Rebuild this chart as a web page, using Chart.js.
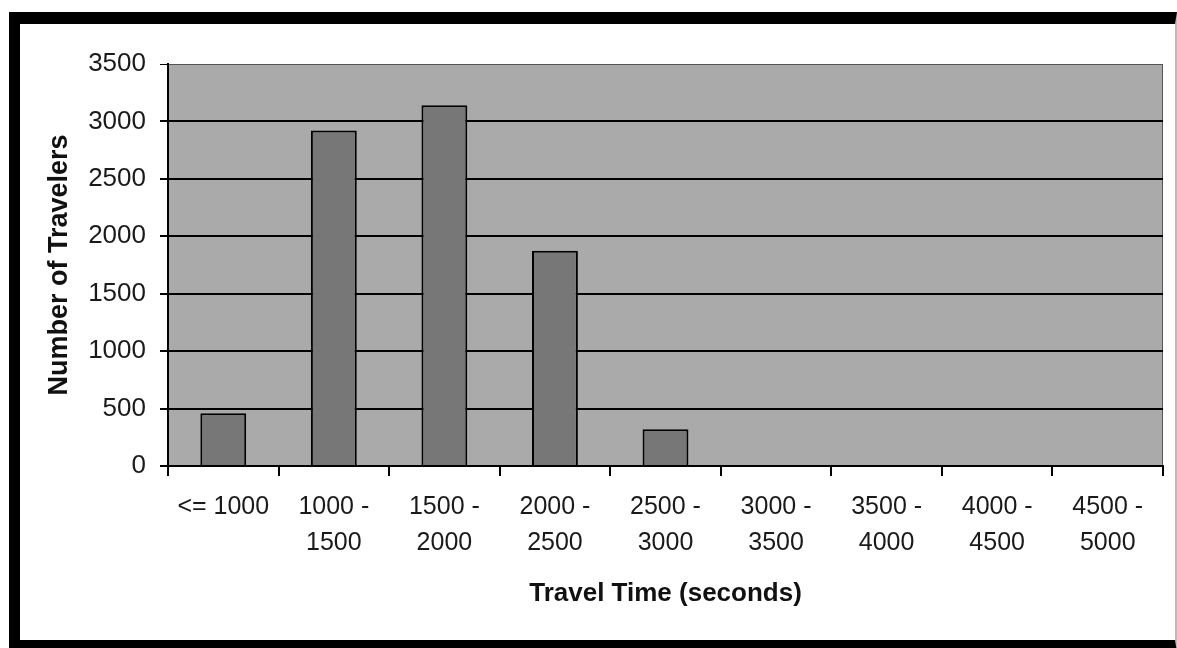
<!DOCTYPE html>
<html>
<head>
<meta charset="utf-8">
<script src="https://cdn.jsdelivr.net/npm/chart.js@4/dist/chart.umd.min.js"></script>
<style>
  html, body { margin: 0; padding: 0; background: #ffffff; overflow: hidden; }
  #frame {
    position: absolute; left: 9px; top: 12px; width: 1168px; height: 640px;
    box-sizing: border-box;
    border-left: 11px solid #000; border-top: 12px solid #000; border-bottom: 12px solid #000;
    border-right: 2px solid #bbbbbb;
    background: #ffffff;
  }
  #c { position: absolute; left: 0; top: 0; }
</style>
</head>
<body>
<div id="frame"></div>
<canvas id="c" width="1177" height="648"></canvas>
<script>
// ---- data ----
const labelLine1 = ['<= 1000', '1000 -', '1500 -', '2000 -', '2500 -', '3000 -', '3500 -', '4000 -', '4500 -'];
const labelLine2 = ['', '1500', '2000', '2500', '3000', '3500', '4000', '4500', '5000'];
const travelers = [460, 2920, 3140, 1875, 320, 0, 0, 0, 0];
const yTicks = [0, 500, 1000, 1500, 2000, 2500, 3000, 3500];
const xTitle = 'Travel Time (seconds)';
const yTitle = 'Number of Travelers';

const categories = labelLine1.map((l, i) => labelLine2[i] ? [l, labelLine2[i]] : l);

const plotBg = {
  id: 'plotBg',
  beforeDraw(chart) {
    const { ctx, chartArea: a } = chart;
    ctx.save();
    ctx.fillStyle = '#aaaaaa';
    ctx.fillRect(a.left, a.top, a.right - a.left, a.bottom - a.top);
    ctx.strokeStyle = '#555555';
    ctx.lineWidth = 1;
    ctx.strokeRect(a.left + 0.5, a.top + 0.5, a.right - a.left - 1, a.bottom - a.top - 1);
    ctx.restore();
  }
};

new Chart(document.getElementById('c'), {
  type: 'bar',
  data: {
    labels: categories,
    datasets: [{
      data: travelers,
      backgroundColor: '#777777',
      borderColor: '#000000',
      borderWidth: 2,
      borderSkipped: 'bottom',
      categoryPercentage: 1,
      barPercentage: 0.415
    }]
  },
  options: {
    responsive: false,
    animation: false,
    events: [],
    layout: { padding: { top: 64, right: 14, left: 0, bottom: 0 } },
    plugins: { legend: { display: false }, tooltip: { enabled: false } },
    scales: {
      x: {
        offset: true,
        grid: { offset: true, drawOnChartArea: false, drawTicks: true, tickLength: 10, color: '#000', lineWidth: 2 },
        border: { display: true, color: '#000', width: 2 },
        ticks: {
          color: '#1a1a1a', padding: 13, maxRotation: 0, autoSkip: false,
          font: { family: '"Liberation Sans", Arial, sans-serif', size: 25, lineHeight: 1.44 }
        },
        title: {
          display: true, text: xTitle, color: '#111',
          font: { family: '"Liberation Sans", Arial, sans-serif', size: 26, weight: 'bold', lineHeight: 1.2 },
          padding: { top: 0, bottom: 39 }
        },
        afterFit(scale) { scale.height = 182; }
      },
      y: {
        min: 0, max: 3500,
        afterBuildTicks(scale) { scale.ticks = yTicks.map(v => ({ value: v })); },
        grid: {
          color: ctx => (ctx.tick && ctx.tick.value === 3500) ? '#555' : '#000',
          lineWidth: ctx => (ctx.tick && ctx.tick.value === 3500) ? 1 : 2,
          tickColor: '#000',
          tickLength: 8
        },
        border: { display: true, color: '#000', width: 2 },
        ticks: {
          color: '#1a1a1a', padding: 14,
          callback: v => String(v),
          font: { family: '"Liberation Sans", Arial, sans-serif', size: 26 }
        },
        title: {
          display: true, text: yTitle, color: '#111',
          font: { family: '"Liberation Sans", Arial, sans-serif', size: 27, weight: 'bold', lineHeight: 1.2 },
          padding: { top: 43, bottom: 0 }
        },
        afterFit(scale) { scale.width = 168; }
      }
    }
  },
  plugins: [plotBg]
});
</script>
</body>
</html>
